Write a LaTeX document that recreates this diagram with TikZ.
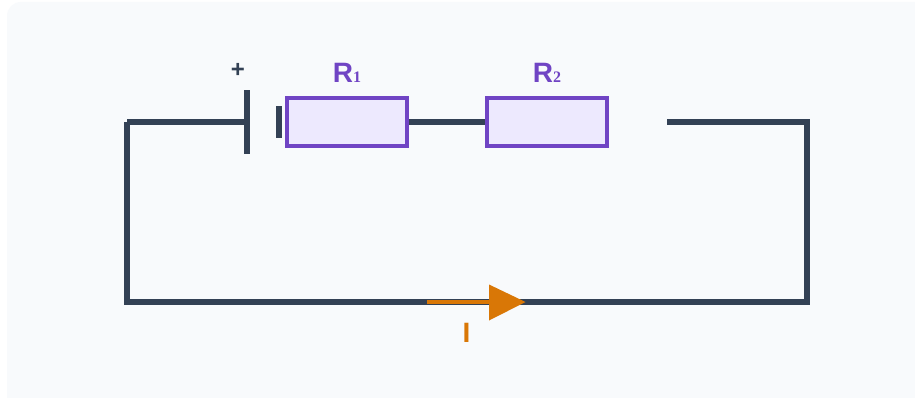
\documentclass[tikz,border=0pt]{standalone}
\usepackage{fontspec}
\setmainfont{Liberation Sans}
\newfontfamily\subfont{Liberation Serif}
\definecolor{wirec}{HTML}{334155}
\definecolor{purp}{HTML}{7044C4}
\definecolor{purpfill}{HTML}{EDE9FE}
\definecolor{orng}{HTML}{D97706}
\definecolor{bgc}{HTML}{F8FAFC}
\tikzset{
  wire/.style={draw=wirec,line width=5.3pt,line cap=butt,line join=miter},
  plate/.style={draw=none,fill=wirec,inner sep=0pt,outer sep=0pt},
  resistor/.style={draw=purp,fill=purpfill,line width=4.6pt,minimum width=120pt,minimum height=48pt,inner sep=0pt,outer sep=0pt},
  rlabel/.style={text=purp,font=\fontsize{28}{28}\selectfont\bfseries,inner sep=0pt},
}
\newcommand{\subnum}[1]{{\subfont\fontsize{16}{16}\selectfont\bfseries #1}}
\begin{document}
\begin{tikzpicture}[x=1pt,y=-1pt]
\useasboundingbox (0,0) rectangle (915,398);
\fill[white] (0,0) rectangle (915,398);
\fill[bgc,rounded corners=14pt] (7,2) rectangle (930,412);
% nodes
\node[plate,minimum width=6pt,minimum height=64pt] (batL) at (247,122) {};
\node[plate,minimum width=6pt,minimum height=32pt] (batS) at (279,122) {};
\node[resistor] (r1) at (347,122) {};
\node[resistor] (r2) at (547,122) {};
\coordinate (open) at (667,122);
\coordinate (tl) at (127,122);
\coordinate (bl) at (127,302);
\coordinate (br) at (807,302);
\coordinate (tr) at (807,122);
\coordinate (astart) at (427,302);
\coordinate (aend) at (490,302);
% wires
\draw[wire] (tl) -- (batL.center);
\draw[wire] (tl) -- (bl) -- (br) -- (tr) -- (open);
\draw[wire] (r1.east) -- (r2.west);
\node[plate,minimum width=6pt,minimum height=64pt] at (batL) {};
\node[resistor] at (r1) {};
\node[resistor] at (r2) {};
% current arrow
\draw[draw=orng,line width=4.5pt] (astart) -- (aend);
\fill[orng] (489,284.5) -- (525.5,302) -- (489,320.5) -- cycle;
% labels
\node[text=wirec,font=\fontsize{24}{24}\selectfont\bfseries,inner sep=0pt] (plus) at (238,70.5) {+};
\node[rlabel] (lr1) at (347,73) {R\subnum{1}};
\node[rlabel] (lr2) at (547,73) {R\subnum{2}};
\node[text=orng,font=\fontsize{28}{28}\selectfont\bfseries,inner sep=0pt] (li) at (466.5,332.5) {I};
\end{tikzpicture}
\end{document}
